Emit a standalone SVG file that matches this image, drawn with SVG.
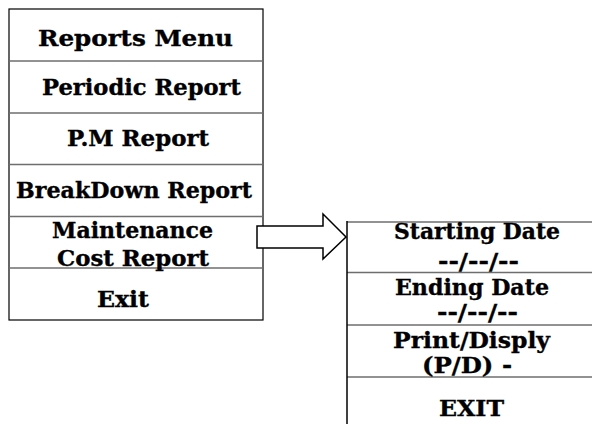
<svg xmlns="http://www.w3.org/2000/svg" width="592" height="424" viewBox="0 0 592 424">
<style>
.t{font-family:"DejaVu Serif","Liberation Serif",serif;font-weight:bold;font-size:21.5px;fill:#000;stroke:#000;stroke-width:0.35}
.sep{stroke:#6e6e6e;stroke-width:1.6;fill:none}
.border{stroke:#000;stroke-width:1.2;fill:none}
</style>
<rect x="0" y="0" width="592" height="424" fill="#fff"/>
<g id="reports-menu">
<rect class="border" x="9" y="9" width="254" height="311" fill="#fff"/>
<line class="sep" x1="9" y1="61" x2="263" y2="61"/>
<line class="sep" x1="9" y1="113" x2="263" y2="113"/>
<line class="sep" x1="9" y1="164.5" x2="263" y2="164.5"/>
<line class="sep" x1="9" y1="216.5" x2="263" y2="216.5"/>
<line class="sep" x1="9" y1="268" x2="263" y2="268"/>
<text class="t" x="38" y="45.5" textLength="195" lengthAdjust="spacingAndGlyphs">Reports Menu</text>
<text class="t" x="42" y="95" textLength="199" lengthAdjust="spacingAndGlyphs">Periodic Report</text>
<text class="t" x="67" y="146" textLength="142" lengthAdjust="spacingAndGlyphs">P.M Report</text>
<text class="t" x="16" y="198" textLength="236" lengthAdjust="spacingAndGlyphs">BreakDown Report</text>
<text class="t" x="52" y="238" textLength="161" lengthAdjust="spacingAndGlyphs">Maintenance</text>
<text class="t" x="57" y="266" textLength="152" lengthAdjust="spacingAndGlyphs">Cost Report</text>
<text class="t" x="97" y="307" textLength="52" lengthAdjust="spacingAndGlyphs">Exit</text>
</g>
<g id="connectors">
<polygon points="257,226 323,226 323,214 346,237 323,259 323,248 257,248" fill="#fff" stroke="#000" stroke-width="1.5" stroke-linejoin="miter"/>
</g>
<g id="date-form">
<line class="sep" x1="347" y1="222" x2="592" y2="222"/>
<line class="sep" x1="347" y1="272.5" x2="592" y2="272.5"/>
<line class="sep" x1="347" y1="325" x2="592" y2="325"/>
<line class="sep" x1="347" y1="377" x2="592" y2="377"/>
<line x1="347" y1="221" x2="347" y2="424" stroke="#000" stroke-width="1.5"/>
<text class="t" x="394" y="239" textLength="166" lengthAdjust="spacingAndGlyphs">Starting Date</text>
<text class="t" x="438" y="269" textLength="81" lengthAdjust="spacingAndGlyphs">--/--/--</text>
<text class="t" x="395" y="295" textLength="154" lengthAdjust="spacingAndGlyphs">Ending Date</text>
<text class="t" x="437" y="320" textLength="81" lengthAdjust="spacingAndGlyphs">--/--/--</text>
<text class="t" x="393" y="348" textLength="157" lengthAdjust="spacingAndGlyphs">Print/Disply</text>
<text class="t" x="422" y="373" textLength="90" lengthAdjust="spacingAndGlyphs">(P/D) -</text>
<text class="t" x="439" y="416" textLength="65" lengthAdjust="spacingAndGlyphs">EXIT</text>
</g>
</svg>
